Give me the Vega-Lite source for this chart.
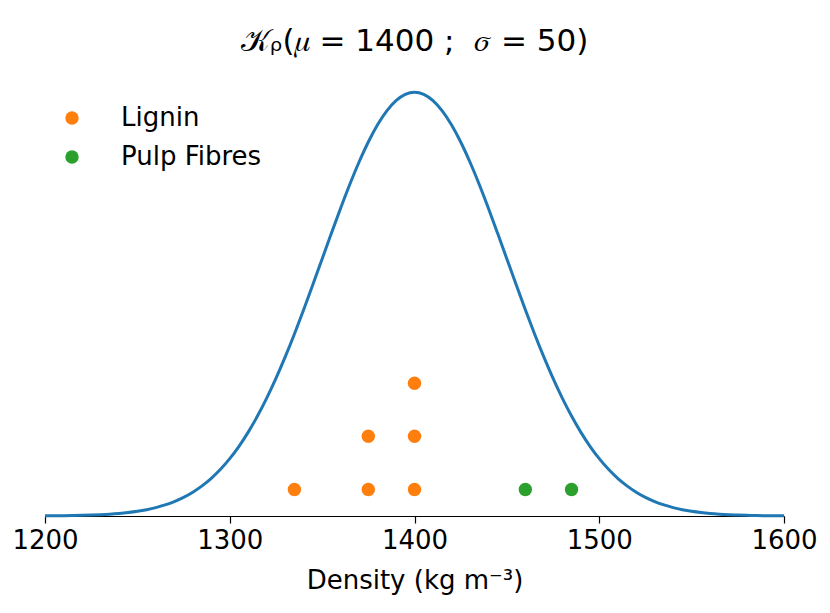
{
  "$schema": "https://vega.github.io/schema/vega-lite/v6.json",
  "width": 739,
  "height": 445,
  "autosize": {"type": "none"},
  "padding": {"left": 45, "top": 71, "right": 46, "bottom": 97},
  "background": "white",
  "config": {
    "view": {"stroke": null},
    "font": "DejaVu Sans",
    "axis": {"grid": false}
  },
  "title": {
    "text": "𝒦ᵨ(𝜇 = 1400 ;\u00a0\u00a0𝜎 = 50)",
    "font": "DejaVu Sans",
    "fontSize": 31,
    "fontWeight": "normal",
    "color": "black",
    "anchor": "middle",
    "baseline": "alphabetic",
    "offset": 19,
    "dy": 30
  },
  "datasets": {
    "curve": [
      {"x": 1200, "y": 0.000335}, {"x": 1205, "y": 0.000498}, {"x": 1210, "y": 0.000732}, {"x": 1215, "y": 0.001065},
      {"x": 1220, "y": 0.001534}, {"x": 1225, "y": 0.002187}, {"x": 1230, "y": 0.003089}, {"x": 1235, "y": 0.004318},
      {"x": 1240, "y": 0.005976}, {"x": 1245, "y": 0.008189}, {"x": 1250, "y": 0.011109}, {"x": 1255, "y": 0.014920},
      {"x": 1260, "y": 0.019841}, {"x": 1265, "y": 0.026121}, {"x": 1270, "y": 0.034047}, {"x": 1275, "y": 0.043937},
      {"x": 1280, "y": 0.056135}, {"x": 1285, "y": 0.071005}, {"x": 1290, "y": 0.088922}, {"x": 1295, "y": 0.110251},
      {"x": 1300, "y": 0.135335}, {"x": 1305, "y": 0.164474}, {"x": 1310, "y": 0.197899}, {"x": 1315, "y": 0.235746},
      {"x": 1320, "y": 0.278037}, {"x": 1325, "y": 0.324652}, {"x": 1330, "y": 0.375311}, {"x": 1335, "y": 0.429557},
      {"x": 1340, "y": 0.486752}, {"x": 1345, "y": 0.546074}, {"x": 1350, "y": 0.606531}, {"x": 1355, "y": 0.666977},
      {"x": 1360, "y": 0.726149}, {"x": 1365, "y": 0.782705}, {"x": 1370, "y": 0.835270}, {"x": 1375, "y": 0.882497},
      {"x": 1380, "y": 0.923116}, {"x": 1385, "y": 0.955997}, {"x": 1390, "y": 0.980199}, {"x": 1395, "y": 0.995012},
      {"x": 1400, "y": 1.0},
      {"x": 1405, "y": 0.995012}, {"x": 1410, "y": 0.980199}, {"x": 1415, "y": 0.955997}, {"x": 1420, "y": 0.923116},
      {"x": 1425, "y": 0.882497}, {"x": 1430, "y": 0.835270}, {"x": 1435, "y": 0.782705}, {"x": 1440, "y": 0.726149},
      {"x": 1445, "y": 0.666977}, {"x": 1450, "y": 0.606531}, {"x": 1455, "y": 0.546074}, {"x": 1460, "y": 0.486752},
      {"x": 1465, "y": 0.429557}, {"x": 1470, "y": 0.375311}, {"x": 1475, "y": 0.324652}, {"x": 1480, "y": 0.278037},
      {"x": 1485, "y": 0.235746}, {"x": 1490, "y": 0.197899}, {"x": 1495, "y": 0.164474}, {"x": 1500, "y": 0.135335},
      {"x": 1505, "y": 0.110251}, {"x": 1510, "y": 0.088922}, {"x": 1515, "y": 0.071005}, {"x": 1520, "y": 0.056135},
      {"x": 1525, "y": 0.043937}, {"x": 1530, "y": 0.034047}, {"x": 1535, "y": 0.026121}, {"x": 1540, "y": 0.019841},
      {"x": 1545, "y": 0.014920}, {"x": 1550, "y": 0.011109}, {"x": 1555, "y": 0.008189}, {"x": 1560, "y": 0.005976},
      {"x": 1565, "y": 0.004318}, {"x": 1570, "y": 0.003089}, {"x": 1575, "y": 0.002187}, {"x": 1580, "y": 0.001534},
      {"x": 1585, "y": 0.001065}, {"x": 1590, "y": 0.000732}, {"x": 1595, "y": 0.000498}, {"x": 1600, "y": 0.000335}
    ],
    "points": [
      {"x": 1335, "y": 0.0627, "material": "Lignin"},
      {"x": 1375, "y": 0.0627, "material": "Lignin"},
      {"x": 1375, "y": 0.1880, "material": "Lignin"},
      {"x": 1400, "y": 0.0627, "material": "Lignin"},
      {"x": 1400, "y": 0.1880, "material": "Lignin"},
      {"x": 1400, "y": 0.3133, "material": "Lignin"},
      {"x": 1460, "y": 0.0627, "material": "Pulp Fibres"},
      {"x": 1485, "y": 0.0627, "material": "Pulp Fibres"}
    ]
  },
  "layer": [
    {
      "data": {"name": "curve"},
      "mark": {"type": "line", "color": "#1f77b4", "strokeWidth": 3, "interpolate": "monotone"},
      "encoding": {
        "x": {
          "field": "x", "type": "quantitative",
          "scale": {"domain": [1200, 1600], "nice": false, "zero": false},
          "axis": {
            "title": "Density (kg m⁻³)",
            "titleFont": "DejaVu Sans",
            "titleFontSize": 26,
            "titleFontWeight": "normal",
            "titleColor": "black",
            "titlePadding": 14,
            "values": [1200, 1300, 1400, 1500, 1600],
            "format": "d",
            "labelFont": "DejaVu Sans",
            "labelFontSize": 26,
            "labelColor": "black",
            "labelPadding": 4,
            "labelFlush": false,
            "tickSize": 7,
            "tickWidth": 1.2,
            "tickColor": "black",
            "domainColor": "black",
            "domainWidth": 1.2
          }
        },
        "y": {
          "field": "y", "type": "quantitative",
          "scale": {"domain": [0, 1.05], "nice": false},
          "axis": null
        }
      }
    },
    {
      "data": {"name": "points"},
      "mark": {"type": "point", "shape": "circle", "filled": true, "opacity": 1, "size": 180},
      "encoding": {
        "x": {"field": "x", "type": "quantitative"},
        "y": {"field": "y", "type": "quantitative"},
        "color": {
          "field": "material", "type": "nominal",
          "scale": {"domain": ["Lignin", "Pulp Fibres"], "range": ["#ff7f0e", "#2ca02c"]},
          "legend": {
            "title": null,
            "orient": "none",
            "legendX": 14,
            "legendY": 34,
            "padding": 0,
            "symbolType": "circle",
            "symbolSize": 180,
            "symbolStrokeWidth": 0,
            "symbolOpacity": 1,
            "labelFont": "DejaVu Sans",
            "labelFontSize": 26,
            "labelColor": "black",
            "labelOffset": 36,
            "rowPadding": 13
          }
        }
      }
    }
  ]
}
